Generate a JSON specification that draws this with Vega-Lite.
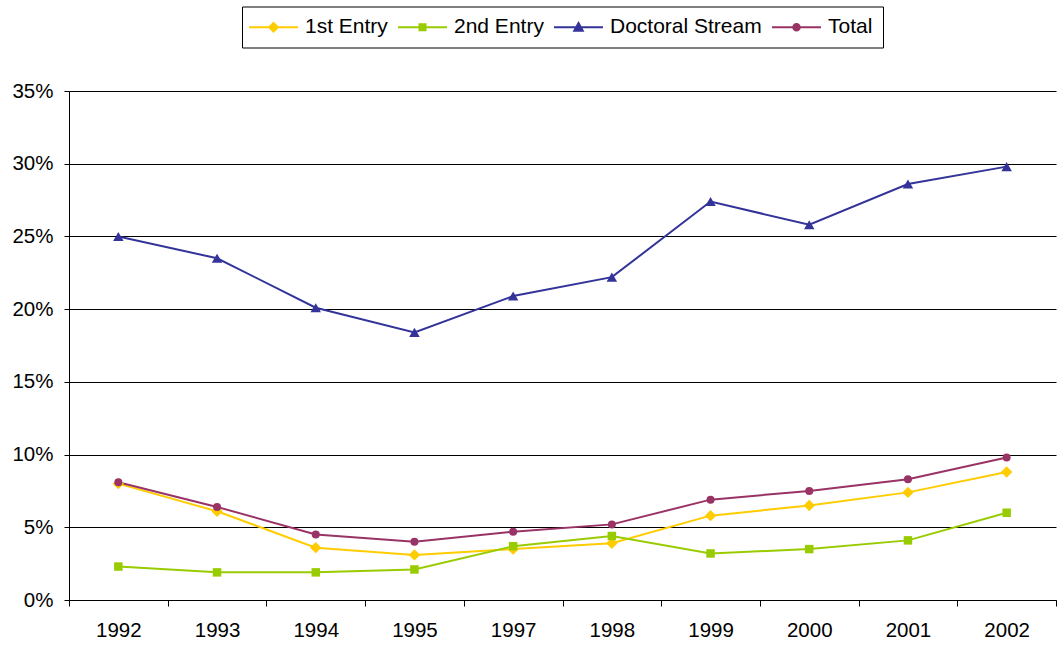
{
  "$schema": "https://vega.github.io/schema/vega-lite/v6.json",
  "width": 987,
  "height": 509,
  "autosize": {"type": "none"},
  "padding": {"left": 69, "top": 91, "right": 2, "bottom": 46},
  "background": "white",
  "config": {
    "view": {"stroke": null},
    "font": "Liberation Sans"
  },
  "data": {
    "values": [
      {"year": "1992", "series": "1st Entry", "value": 8.0},
      {"year": "1993", "series": "1st Entry", "value": 6.1},
      {"year": "1994", "series": "1st Entry", "value": 3.6},
      {"year": "1995", "series": "1st Entry", "value": 3.1},
      {"year": "1997", "series": "1st Entry", "value": 3.5},
      {"year": "1998", "series": "1st Entry", "value": 3.9},
      {"year": "1999", "series": "1st Entry", "value": 5.8},
      {"year": "2000", "series": "1st Entry", "value": 6.5},
      {"year": "2001", "series": "1st Entry", "value": 7.4},
      {"year": "2002", "series": "1st Entry", "value": 8.8},
      {"year": "1992", "series": "2nd Entry", "value": 2.3},
      {"year": "1993", "series": "2nd Entry", "value": 1.9},
      {"year": "1994", "series": "2nd Entry", "value": 1.9},
      {"year": "1995", "series": "2nd Entry", "value": 2.1},
      {"year": "1997", "series": "2nd Entry", "value": 3.7},
      {"year": "1998", "series": "2nd Entry", "value": 4.4},
      {"year": "1999", "series": "2nd Entry", "value": 3.2},
      {"year": "2000", "series": "2nd Entry", "value": 3.5},
      {"year": "2001", "series": "2nd Entry", "value": 4.1},
      {"year": "2002", "series": "2nd Entry", "value": 6.0},
      {"year": "1992", "series": "Doctoral Stream", "value": 25.0},
      {"year": "1993", "series": "Doctoral Stream", "value": 23.5},
      {"year": "1994", "series": "Doctoral Stream", "value": 20.1},
      {"year": "1995", "series": "Doctoral Stream", "value": 18.4},
      {"year": "1997", "series": "Doctoral Stream", "value": 20.9},
      {"year": "1998", "series": "Doctoral Stream", "value": 22.2},
      {"year": "1999", "series": "Doctoral Stream", "value": 27.4},
      {"year": "2000", "series": "Doctoral Stream", "value": 25.8},
      {"year": "2001", "series": "Doctoral Stream", "value": 28.6},
      {"year": "2002", "series": "Doctoral Stream", "value": 29.8},
      {"year": "1992", "series": "Total", "value": 8.1},
      {"year": "1993", "series": "Total", "value": 6.4},
      {"year": "1994", "series": "Total", "value": 4.5},
      {"year": "1995", "series": "Total", "value": 4.0},
      {"year": "1997", "series": "Total", "value": 4.7},
      {"year": "1998", "series": "Total", "value": 5.2},
      {"year": "1999", "series": "Total", "value": 6.9},
      {"year": "2000", "series": "Total", "value": 7.5},
      {"year": "2001", "series": "Total", "value": 8.3},
      {"year": "2002", "series": "Total", "value": 9.8}
    ]
  },
  "encoding": {
    "x": {
      "field": "year",
      "type": "ordinal",
      "bandPosition": 0.5,
      "scale": {"type": "band", "paddingInner": 0, "paddingOuter": 0},
      "axis": {
        "title": null,
        "labelAngle": 0,
        "tickBand": "extent",
        "grid": false,
        "domainColor": "#000000",
        "tickColor": "#000000",
        "tickSize": 6,
        "labelFontSize": 20.5,
        "labelFont": "Liberation Sans",
        "labelColor": "#000000",
        "labelPadding": 14
      }
    },
    "y": {
      "field": "value",
      "type": "quantitative",
      "scale": {"domain": [0, 35], "nice": false},
      "axis": {
        "title": null,
        "values": [0, 5, 10, 15, 20, 25, 30, 35],
        "labelExpr": "datum.value + '%'",
        "grid": true,
        "gridColor": "#000000",
        "gridWidth": 1,
        "domainColor": "#000000",
        "tickColor": "#000000",
        "tickSize": 5,
        "labelFontSize": 20.5,
        "labelFont": "Liberation Sans",
        "labelColor": "#000000",
        "labelPadding": 11
      }
    },
    "color": {
      "field": "series",
      "type": "nominal",
      "scale": {
        "domain": ["1st Entry", "2nd Entry", "Doctoral Stream", "Total"],
        "range": ["#FFCC00", "#99CC00", "#333399", "#993366"]
      },
      "legend": {
        "title": null,
        "orient": "none",
        "legendX": 173,
        "legendY": -84.5,
        "direction": "horizontal",
        "columns": 4,
        "strokeColor": "#000000",
        "padding": 10,
        "labelFontSize": 21,
        "labelFont": "Liberation Sans",
        "labelColor": "#000000",
        "symbolSize": 100,
        "symbolStrokeWidth": 2,
        "labelOffset": 32,
        "columnPadding": 6,
        "encode": {
          "symbols": {
            "update": {
              "shape": {"signal": "datum.value === '1st Entry' ? 'M-2.7,0H7.1M2.2,-0.85L3.05,0L2.2,0.85L1.35,0Z' : datum.value === '2nd Entry' ? 'M-2.7,0H7.1M1.6,-0.6H2.8V0.6H1.6Z' : datum.value === 'Doctoral Stream' ? 'M-2.7,0H7.1M2.2,-0.85L3.05,0.7H1.35Z' : 'M-2.7,0H7.1M1.55,0A0.65,0.65,0,1,0,2.85,0A0.65,0.65,0,1,0,1.55,0Z'"},
              "fill": {"scale": "color", "field": "value"},
              "stroke": {"scale": "color", "field": "value"},
              "strokeWidth": {"value": 2},
              "opacity": {"value": 1},
              "fillOpacity": {"value": 1},
              "strokeOpacity": {"value": 1}
            }
          }
        }
      }
    }
  },
  "layer": [
    {
      "mark": {"type": "line", "strokeWidth": 2}
    },
    {
      "transform": [{"filter": "datum.series === '1st Entry'"}],
      "mark": {"type": "point", "filled": true, "opacity": 1, "shape": "diamond", "size": 130}
    },
    {
      "transform": [{"filter": "datum.series === '2nd Entry'"}],
      "mark": {"type": "point", "filled": true, "opacity": 1, "shape": "square", "size": 72}
    },
    {
      "transform": [{"filter": "datum.series === 'Doctoral Stream'"}],
      "mark": {"type": "point", "filled": true, "opacity": 1, "shape": "triangle-up", "size": 110}
    },
    {
      "transform": [{"filter": "datum.series === 'Total'"}],
      "mark": {"type": "point", "filled": true, "opacity": 1, "shape": "circle", "size": 64}
    }
  ]
}
